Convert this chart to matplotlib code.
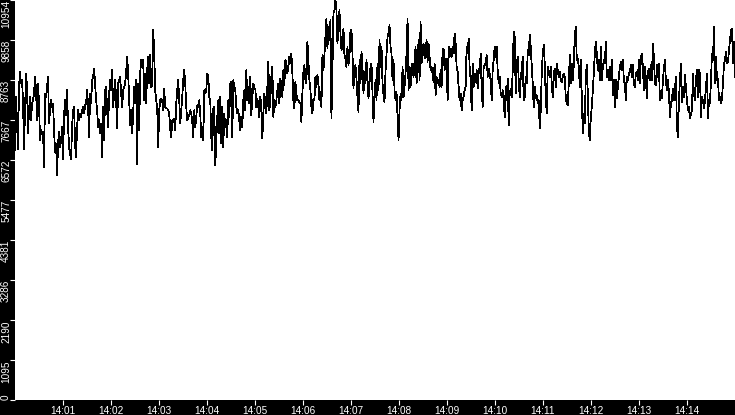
import numpy as np
import pandas as pd
import matplotlib
matplotlib.use("Agg")
import matplotlib.pyplot as plt
import matplotlib.dates as mdates

plt.rcParams["font.family"] = ["Liberation Sans", "DejaVu Sans"]

start_time = "2024-01-01 14:00:00"
end_time = "2024-01-01 14:15:00"

values_part1 = [
    6837, 8300, 7569, 6882, 8575, 8987, 8666, 8758, 8209, 6882,
    7934, 8941, 8575, 7294, 7934, 8300, 7660, 8117, 8209, 8392,
    8849, 8484, 7660, 8666, 8117, 7111, 7386, 7294, 7340, 6379,
    8392, 8300, 8575, 8849, 7569, 7934, 8209, 8026, 8117, 7386,
    6791, 7020, 6150, 7020, 7340, 6928, 7111, 7477, 6608, 7797,
    8209, 7797, 8484, 7477, 6928, 6745, 6608, 7477, 7934, 8026,
    6974, 6654, 7477, 7934, 7660, 7843, 7752, 7934, 8026, 7843,
    8072, 8117, 8484, 8026, 7203, 8392, 8117, 8758, 8849, 9078,
    8666, 8209, 7934, 7477, 7660, 7294, 7569, 6654, 8026, 7111,
    8484, 8575, 7934, 7477, 8392, 8758, 8484, 9033, 8026, 8392,
    8758, 8209, 7431, 8666, 8758, 8849, 8392, 8026, 8484, 8575,
    8666, 8987, 9399, 8941, 8209, 7523, 7934, 7294, 7843, 8575,
]
values_part2 = [
    8117, 8758, 6471, 8666, 7386, 8941, 9307, 9261, 9307, 8209,
    8941, 8117, 9033, 9399, 8666, 9444, 8575, 8621, 10130, 9536,
    8484, 8209, 8026, 6928, 7934, 8209, 8255, 8209, 7934, 8529,
    8026, 7980, 7980, 7934, 7843, 7431, 7203, 7660, 7614, 7706,
    7386, 8117, 8484, 8758, 8209, 7569, 7934, 8300, 8758, 9033,
    8666, 8026, 7660, 7752, 7797, 7934, 7843, 7614, 7203, 7934,
    7477, 7752, 8072, 8026, 8209, 7843, 7203, 7477, 7111, 8484,
    8392, 8484, 8941, 8849, 8300, 8209, 7203, 6837, 7980, 8026,
    6425, 7111, 7752, 8209, 7294, 8300, 7020, 8026, 6928, 7843,
    7477, 7660, 7203, 8209, 7752, 8666, 8712, 7203, 8758, 8575,
    8484, 8026, 7843, 7934, 7660, 7386, 7752, 7477, 8209, 8484,
    7934, 9033, 8209, 8575, 8117, 8849, 7797, 8300, 8666, 8529,
]
values_part3 = [
    8529, 8026, 8255, 8026, 7752, 8300, 8026, 7157, 7843, 8392,
    8117, 7843, 8575, 9261, 7934, 8209, 8849, 9124, 7752, 8209,
    8026, 8209, 8484, 8666, 8117, 8804, 8575, 8300, 9033, 8621,
    9307, 9216, 8941, 9124, 9399, 9216, 9490, 8941, 8209, 7980,
    8712, 8392, 8209, 8209, 8163, 8117, 7614, 8392, 8987, 9170,
    8758, 8666, 9810, 9307, 8758, 8484, 8026, 7843, 8255, 8209,
    8849, 8575, 8895, 8666, 8209, 8438, 8026, 9444, 9033, 9444,
    9948, 10451, 9627, 10222, 9856, 10405, 7706, 9033, 10588, 10680,
    10954, 10680, 9765, 10268, 10680, 10039, 9582, 9765, 10176, 9444,
    9353, 9124, 9673, 9170, 9399, 10130, 10130, 9490, 8529, 9124,
    9170, 8804, 8300, 7889, 9307, 8666, 9536, 9124, 8392, 8987,
    8666, 9307, 8758, 8255, 8666, 9124, 9216, 8392, 7614, 8300,
]
values_part4 = [
    8758, 8209, 9216, 8484, 9856, 9124, 9673, 8666, 8346, 8163,
    8987, 9490, 9948, 10039, 10268, 9673, 9490, 8758, 9307, 8484,
    8209, 8438, 7752, 7111, 7934, 8392, 8209, 9124, 8300, 8575,
    8941, 9490, 10451, 8484, 9124, 8575, 9216, 9033, 8849, 9307,
    9673, 8666, 9216, 9856, 8758, 10359, 9216, 9582, 9765, 9353,
    9536, 9856, 9261, 9765, 9399, 9033, 9124, 8941, 8712, 9216,
    8346, 8849, 8666, 8758, 8575, 9033, 8575, 9582, 9627, 9033,
    9353, 9124, 8209, 9673, 9399, 9627, 9399, 9673, 9490, 10039,
    9765, 9124, 8987, 8575, 8209, 8392, 7934, 8209, 8300, 8484,
    8575, 9673, 9490, 9902, 9124, 8758, 7934, 9216, 8575, 8941,
    8712, 9033, 8529, 9078, 8941, 9490, 8575, 8026, 9124, 9170,
    9216, 9444, 8849, 9078, 8941, 8758, 8209, 9033, 9307, 9673,
]
values_part5 = [
    9399, 9673, 9033, 8666, 8849, 8392, 8300, 8484, 8209, 7752,
    8575, 8209, 8804, 7523, 8392, 8529, 8300, 9033, 10085, 9948,
    8392, 9124, 9399, 8758, 8300, 8804, 9033, 9399, 8209, 8300,
    8849, 8666, 9582, 9444, 9993, 9673, 9170, 8666, 8026, 8575,
    8255, 8346, 8117, 8209, 7431, 7934, 8941, 9490, 9719, 9216,
    8300, 7843, 9124, 8987, 8849, 9124, 8666, 8300, 8941, 9078,
    8575, 9216, 9033, 8849, 8987, 8758, 8712, 8849, 8941, 8849,
    8300, 8117, 8072, 8666, 9444, 8666, 9216, 8758, 9170, 9993,
    10222, 9307, 9353, 9124, 8575, 9307, 8300, 7294, 7843, 7569,
    8849, 9170, 8392, 7386, 7111, 7752, 8026, 8484, 8941, 9490,
    9810, 9490, 9033, 9307, 8758, 9673, 8758, 9124, 9307, 9216,
    9810, 8849, 9033, 8758, 9124, 8758, 9307, 8346, 8758, 8026,
]
values_part6 = [
    8758, 8255, 8575, 8849, 9124, 9261, 9033, 9307, 8758, 8666,
    8209, 8849, 8758, 8941, 8987, 9170, 8849, 9170, 8666, 8575,
    8941, 8987, 8758, 9307, 8666, 9353, 9490, 9124, 8484, 9124,
    8804, 8255, 8987, 9078, 8758, 9170, 8758, 9765, 9399, 8666,
    8621, 9170, 8849, 9216, 8209, 8392, 8255, 8758, 9078, 9307,
    8712, 8484, 8758, 8438, 7752, 8117, 8209, 8529, 8209, 8529,
    8849, 7477, 7203, 8209, 8758, 9216, 8163, 8575, 8300, 8895,
    8575, 8209, 7934, 8026, 7706, 7843, 7934, 8941, 8392, 8209,
    8758, 9033, 8300, 9033, 8941, 7752, 8300, 8209, 7980, 8209,
    8575, 8941, 7706, 8209, 8117, 8758, 9490, 9307, 10222, 8666,
    9399, 8758, 8804, 8209, 8300, 8117, 8255, 8666, 9216, 9307,
    9536, 9216, 9261, 9582, 9856, 10130, 10176, 9216, 9810, 8849,
]

values = np.array(values_part1 + values_part2 + values_part3 +
                  values_part4 + values_part5 + values_part6, dtype=float)
times = pd.date_range(start_time, end_time, periods=len(values))

W, H, DPI = 735, 415, 100
fig = plt.figure(figsize=(W / DPI, H / DPI), dpi=DPI, facecolor="black")
ax = fig.add_axes([15 / W, 15 / H, 720 / W, 400 / H], facecolor="white")

ax.plot(times, values, color="black", lw=0.55, antialiased=False)

vmax = values.max()
ax.set_ylim(0, vmax)
ax.set_xlim(pd.Timestamp(start_time), pd.Timestamp(end_time))

yt = [vmax * i / 10 for i in range(11)]
ax.set_yticks(yt)
ax.set_yticklabels([str(int(v)) for v in yt], rotation=90, va="top",
                   color="white", fontsize=7.2)
ax.get_yticklabels()[0].set_va("bottom")

xt = pd.date_range("2024-01-01 14:01:00", "2024-01-01 14:14:00", freq="1min")
ax.set_xticks(xt)
ax.xaxis.set_major_formatter(mdates.DateFormatter("%H:%M"))
for lbl in ax.get_xticklabels():
    lbl.set_color("white")
    lbl.set_fontsize(7.2)

ax.tick_params(axis="x", colors="white", length=3.6, width=0.8, pad=1.0,
               labelcolor="white")
ax.tick_params(axis="y", colors="white", length=3.3, width=0.8, pad=-0.5,
               labelcolor="white")
for sp in ax.spines.values():
    sp.set_visible(False)

fig.savefig("out.png", dpi=DPI, facecolor="black")
